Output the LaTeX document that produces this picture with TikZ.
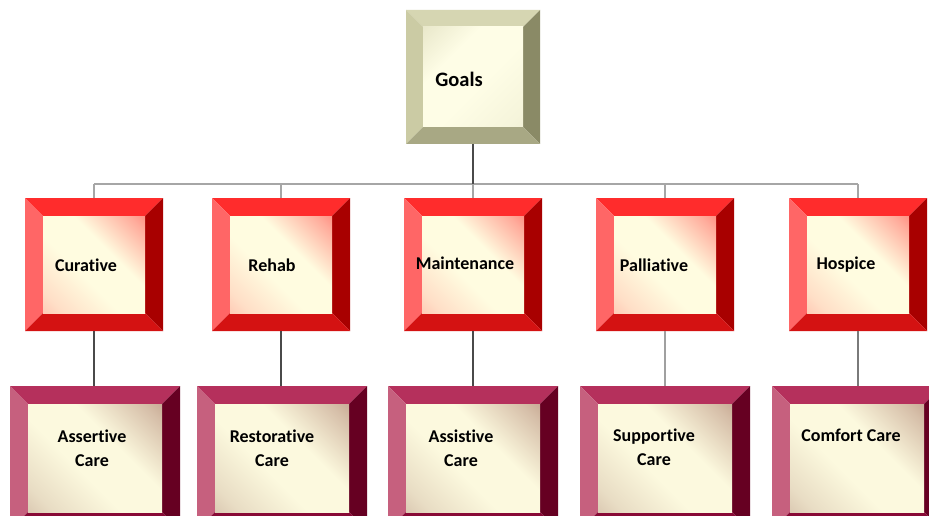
\documentclass[tikz,border=0pt]{standalone}
\usepackage{fontspec}
\setmainfont[Ligatures=NoCommon]{Carlito}
\usetikzlibrary{calc}

% bevel palettes
\definecolor{gTop}{HTML}{D6D6B2}
\definecolor{gLeft}{HTML}{CBCBA4}
\definecolor{gRight}{HTML}{8A8A66}
\definecolor{gBot}{HTML}{A8A884}
\definecolor{gFace}{HTML}{FEFDE6}
\definecolor{gTint}{HTML}{DCDBBA}

\definecolor{rTop}{HTML}{FF2C2C}
\definecolor{rLeft}{HTML}{FF6666}
\definecolor{rRight}{HTML}{A80000}
\definecolor{rBot}{HTML}{D41212}
\definecolor{rFace}{HTML}{FFFCE0}
\definecolor{rTint}{HTML}{FF4A48}
\definecolor{rTintB}{HTML}{FFA898}

\definecolor{mTop}{HTML}{B5305C}
\definecolor{mLeft}{HTML}{C6607E}
\definecolor{mRight}{HTML}{660022}
\definecolor{mBot}{HTML}{880A36}
\definecolor{mFace}{HTML}{FCF9DE}
\definecolor{mTint}{HTML}{A87868}
\definecolor{mTintB}{HTML}{C4A894}

\definecolor{busgray}{HTML}{A6A6A6}
\definecolor{linkdark}{HTML}{4A4A4A}
\definecolor{linkmid}{HTML}{7A7A7A}
\definecolor{linklight}{HTML}{A0A0A0}

% face gradients: tint at both ends of the diagonal, cream through the middle
\pgfdeclareverticalshading{goalshade}{100bp}{%
  color(0bp)=(gTint!60!gFace); color(20bp)=(gTint!25!gFace); color(45bp)=(gFace);
  color(65bp)=(gFace); color(85bp)=(gTint!60!gFace); color(100bp)=(gTint)}
\pgfdeclareverticalshading{redshade}{100bp}{%
  color(0bp)=(rTintB); color(22bp)=(rTintB!35!rFace); color(42bp)=(rFace);
  color(60bp)=(rFace); color(80bp)=(rTint!45!rFace); color(100bp)=(rTint)}
\pgfdeclareverticalshading{maroonshade}{100bp}{%
  color(0bp)=(mTintB); color(22bp)=(mTintB!35!mFace); color(42bp)=(mFace);
  color(60bp)=(mFace); color(80bp)=(mTint!45!mFace); color(100bp)=(mTint)}

% #1 node, #2 bevel, #3-#6 top/left/right/bottom colours, #7 face style
\newcommand\bevelbox[7]{%
  \fill[#3] (#1.north west) -- (#1.north east) -- ([shift={(-#2,-#2)}]#1.north east) -- ([shift={(#2,-#2)}]#1.north west) -- cycle;
  \fill[#4] (#1.north west) -- ([shift={(#2,-#2)}]#1.north west) -- ([shift={(#2,#2)}]#1.south west) -- (#1.south west) -- cycle;
  \fill[#5] (#1.north east) -- (#1.south east) -- ([shift={(-#2,#2)}]#1.south east) -- ([shift={(-#2,-#2)}]#1.north east) -- cycle;
  \fill[#6] (#1.south west) -- ([shift={(#2,#2)}]#1.south west) -- ([shift={(-#2,#2)}]#1.south east) -- (#1.south east) -- cycle;
  \path[#7] ([shift={(#2,-#2)}]#1.north west) rectangle ([shift={(-#2,#2)}]#1.south east);
}

\tikzset{
  frame/.style={inner sep=0pt, outer sep=0pt},
  goalframe/.style={frame, minimum width=134pt, minimum height=134pt},
  midframe/.style={frame, minimum width=138pt, minimum height=133pt},
  lowframe/.style={frame, minimum width=170pt, minimum height=144pt},
  goalface/.style={shade, shading=goalshade, shading angle=45},
  redface/.style={shade, shading=redshade, shading angle=-45},
  maroonface/.style={shade, shading=maroonshade, shading angle=-45},
  lbl/.style={font=\bfseries\fontsize{18}{24}\selectfont, align=center, text=black, inner sep=0pt},
  biglbl/.style={lbl, font=\bfseries\fontsize{20.5}{24}\selectfont},
  bus/.style={draw=busgray, line width=1.6pt},
  trunk/.style={draw=linkdark, line width=1.8pt},
  link/.style={draw=linkdark, line width=1.4pt},
  linkmd/.style={draw=linkmid, line width=1.4pt},
  linklt/.style={draw=linklight, line width=1.4pt},
}

\begin{document}
\begin{tikzpicture}[x=1pt,y=1pt]
  \clip (0,0) rectangle (929,-516);
  \fill[white] (0,0) rectangle (929,-516);

  % box frames
  \node[goalframe] (goals) at (473,-77) {};

  \node[midframe] (cur) at (94,-264.5) {};
  \node[midframe] (reh) at (281,-264.5) {};
  \node[midframe] (mai) at (473,-264.5) {};
  \node[midframe] (pal) at (665,-264.5) {};
  \node[midframe] (hos) at (858,-264.5) {};

  \node[lowframe] (ass) at (95,-458) {};
  \node[lowframe] (res) at (282,-458) {};
  \node[lowframe] (asi) at (473,-458) {};
  \node[lowframe] (sup) at (665,-458) {};
  \node[lowframe] (com) at (857,-458) {};

  % bevelled boxes
  \bevelbox{goals}{17pt}{gTop}{gLeft}{gRight}{gBot}{goalface}

  \foreach \n in {cur,reh,mai,pal,hos}
    {\bevelbox{\n}{18pt}{rTop}{rLeft}{rRight}{rBot}{redface}}

  \foreach \n in {ass,res,asi,sup,com}
    {\bevelbox{\n}{18pt}{mTop}{mLeft}{mRight}{mBot}{maroonface}}

  % connectors
  \coordinate (busY) at (473,-184);
  \draw[bus] (cur.north |- busY) -- (hos.north |- busY);
  \draw[trunk] (goals.south) -- (goals.south |- busY);
  \foreach \n in {cur,reh,mai,pal,hos}
    {\draw[bus] (\n.north |- busY) -- (\n.north);}

  \draw[link] (cur.south) -- (cur.south |- ass.north);
  \draw[link] (reh.south) -- (reh.south |- res.north);
  \draw[link] (mai.south) -- (mai.south |- asi.north);
  \draw[linklt] (pal.south) -- (pal.south |- sup.north);
  \draw[linkmd] (hos.south) -- (hos.south |- com.north);

  % labels
  \node[biglbl] (goalsT) at (459,-79) {Goals};

  \node[lbl] (curT) at (86,-265) {Curative};
  \node[lbl] (rehT) at (272,-265) {Rehab};
  \node[lbl] (maiT) at (465,-263) {Maintenance};
  \node[lbl] (palT) at (654,-265) {Palliative};
  \node[lbl] (hosT) at (846,-265) {Hospice};

  \node[lbl] (assT) at (92,-448) {Assertive\\Care};
  \node[lbl] (resT) at (272,-448) {Restorative\\Care};
  \node[lbl] (asiT) at (461,-448) {Assistive\\Care};
  \node[lbl] (supT) at (654,-447) {Supportive\\Care};
  \node[lbl] (comT) at (851,-435) {Comfort Care};
\end{tikzpicture}
\end{document}
